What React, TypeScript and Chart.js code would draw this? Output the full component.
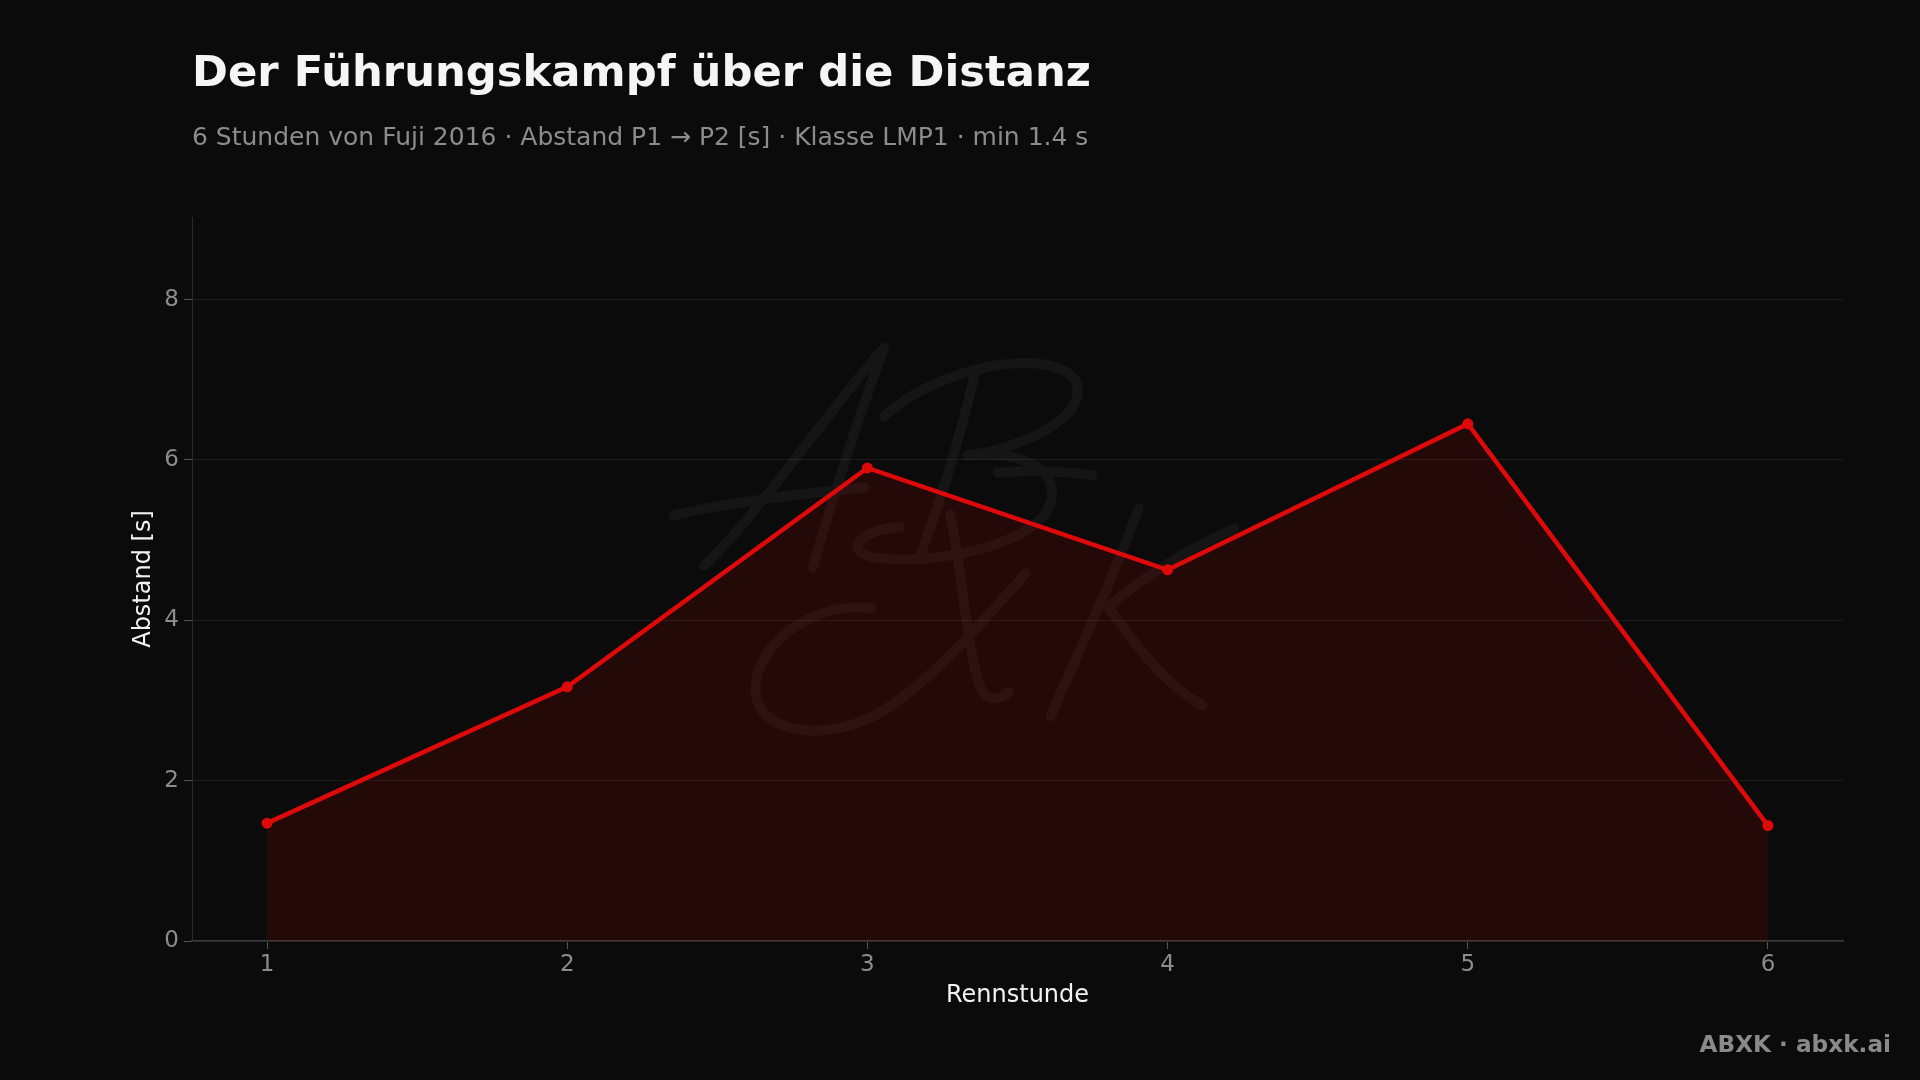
import React, { useEffect, useRef } from "react";
import { Chart, registerables } from "chart.js";

Chart.register(...registerables);

const raceHours: number[] = [1, 2, 3, 4, 5, 6];
const gapP1P2: number[] = [1.47, 3.17, 5.9, 4.63, 6.45, 1.44];
const yTickValues: number[] = [0, 2, 4, 6, 8];
const xTickValues: number[] = [1, 2, 3, 4, 5, 6];
const titleText = "Der Führungskampf über die Distanz";
const subtitleText =
  "6 Stunden von Fuji 2016 · Abstand P1 → P2 [s] · Klasse LMP1 · min 1.4 s";
const yAxisTitle = "Abstand [s]";
const xAxisTitle = "Rennstunde";
const footerText = "ABXK · abxk.ai";

const BG = "#0b0b0b";
const FONT = "'DejaVu Sans', sans-serif";
const RED = "rgb(222,10,10)";

// Decorative handwritten "AB / XK" logo strokes (design space 1568-wide, scaled to canvas)
const LOGO_STROKES: number[][] = [
  // A
  [575, 462, 620, 420, 680, 330, 722, 284],
  [722, 284, 705, 330, 682, 400, 664, 463],
  [550, 421, 585, 412, 640, 405, 706, 398],
  // B
  [797, 303, 785, 350, 772, 400, 752, 452],
  [722, 340, 765, 300, 855, 282, 878, 310],
  [878, 310, 892, 340, 835, 366, 790, 372],
  [790, 372, 850, 366, 872, 395, 852, 422],
  [852, 422, 830, 447, 760, 462, 712, 455],
  [712, 455, 690, 450, 700, 434, 735, 430],
  [815, 386, 840, 384, 870, 385, 892, 388],
  // X
  [712, 497, 660, 490, 615, 530, 617, 565],
  [617, 565, 620, 602, 680, 606, 722, 580],
  [722, 580, 765, 552, 802, 508, 838, 468],
  [776, 420, 786, 470, 790, 530, 800, 560],
  [800, 560, 805, 573, 816, 573, 824, 565],
  // K
  [930, 415, 910, 470, 882, 530, 858, 585],
  [1008, 432, 965, 450, 925, 478, 905, 496],
  [905, 496, 930, 530, 952, 560, 982, 576],
];

export default function App() {
  const ref = useRef<HTMLCanvasElement>(null);

  useEffect(() => {
    const canvas = ref.current;
    if (!canvas) return;
    const yMax = Math.max(...gapP1P2) * 1.4;

    const bgPlugin = {
      id: "bg",
      beforeDraw(chart: any) {
        const { ctx, width, height } = chart;
        ctx.save();
        ctx.fillStyle = BG;
        ctx.fillRect(0, 0, width, height);
        ctx.restore();
      },
    };

    const watermarkPlugin = {
      id: "watermark",
      beforeDatasetsDraw(chart: any) {
        const { ctx, width } = chart;
        const s = width / 1568;
        ctx.save();
        ctx.strokeStyle = "rgba(255,255,255,0.045)";
        ctx.lineWidth = 10;
        ctx.lineCap = "round";
        ctx.lineJoin = "round";
        ctx.beginPath();
        for (const p of LOGO_STROKES) {
          ctx.moveTo(p[0] * s, p[1] * s);
          ctx.bezierCurveTo(p[2] * s, p[3] * s, p[4] * s, p[5] * s, p[6] * s, p[7] * s);
        }
        ctx.stroke();
        ctx.restore();
      },
    };

    const headerPlugin = {
      id: "header",
      afterDraw(chart: any) {
        const { ctx, chartArea } = chart;
        ctx.save();
        ctx.textAlign = "left";
        ctx.textBaseline = "alphabetic";
        ctx.fillStyle = "#f5f5f5";
        ctx.font = `bold 43.3px ${FONT}`;
        ctx.fillText(titleText, chartArea.left, 86);
        ctx.fillStyle = "#8c8c8c";
        ctx.font = `25px ${FONT}`;
        ctx.fillText(subtitleText, chartArea.left, 145);
        ctx.textAlign = "right";
        ctx.textBaseline = "middle";
        ctx.fillStyle = "#8a8a8a";
        ctx.font = `bold 23.2px ${FONT}`;
        ctx.fillText(footerText, 1891, 1046);
        ctx.restore();
      },
    };

    const chart = new Chart(canvas, {
      type: "line",
      data: {
        datasets: [
          {
            data: raceHours.map((h, i) => ({ x: h, y: gapP1P2[i] })),
            borderColor: RED,
            borderWidth: 4.5,
            pointRadius: 5.5,
            pointBackgroundColor: RED,
            pointBorderWidth: 0,
            fill: "origin",
            backgroundColor: "rgba(210,0,0,0.13)",
            tension: 0,
          },
        ],
      },
      options: {
        responsive: false,
        animation: false,
        layout: { padding: { left: 100, right: 77, top: 217, bottom: 59 } },
        plugins: {
          legend: { display: false },
          tooltip: { enabled: false },
        },
        scales: {
          x: {
            type: "linear",
            min: 0.75,
            max: 6.25,
            afterBuildTicks: (s: any) => {
              s.ticks = xTickValues.map((v) => ({ value: v }));
            },
            afterFit: (s: any) => {
              s.height = 80;
            },
            grid: {
              display: true,
              drawOnChartArea: false,
              drawTicks: true,
              tickLength: 8,
              tickColor: "#555555",
            },
            border: { color: "#3a3a3a", width: 1.5 },
            ticks: {
              color: "#8c8c8c",
              font: { family: FONT, size: 23 },
              padding: 2,
            },
            title: {
              display: true,
              text: xAxisTitle,
              color: "#f2f2f2",
              font: { family: FONT, size: 24 },
              padding: { top: 0, bottom: 10.5 },
            },
          },
          y: {
            type: "linear",
            min: 0,
            max: yMax,
            afterBuildTicks: (s: any) => {
              s.ticks = yTickValues.map((v) => ({ value: v }));
            },
            afterFit: (s: any) => {
              s.width = 92;
            },
            grid: {
              color: "#1c1c1c",
              tickColor: "#555555",
              tickLength: 8,
            },
            border: { color: "#2a2a2a", width: 1 },
            ticks: {
              color: "#8c8c8c",
              font: { family: FONT, size: 23 },
              padding: 5,
            },
            title: {
              display: true,
              text: yAxisTitle,
              color: "#f2f2f2",
              font: { family: FONT, size: 24 },
              padding: { top: 29, bottom: 0 },
            },
          },
        },
      },
      plugins: [bgPlugin, watermarkPlugin, headerPlugin],
    } as any);

    return () => chart.destroy();
  }, []);

  return (
    <div
      style={{
        position: "fixed",
        left: 0,
        top: 0,
        width: 1920,
        height: 1080,
        background: BG,
      }}
    >
      <canvas
        ref={ref}
        width={1920}
        height={1080}
        style={{ display: "block", width: 1920, height: 1080 }}
      />
    </div>
  );
}
